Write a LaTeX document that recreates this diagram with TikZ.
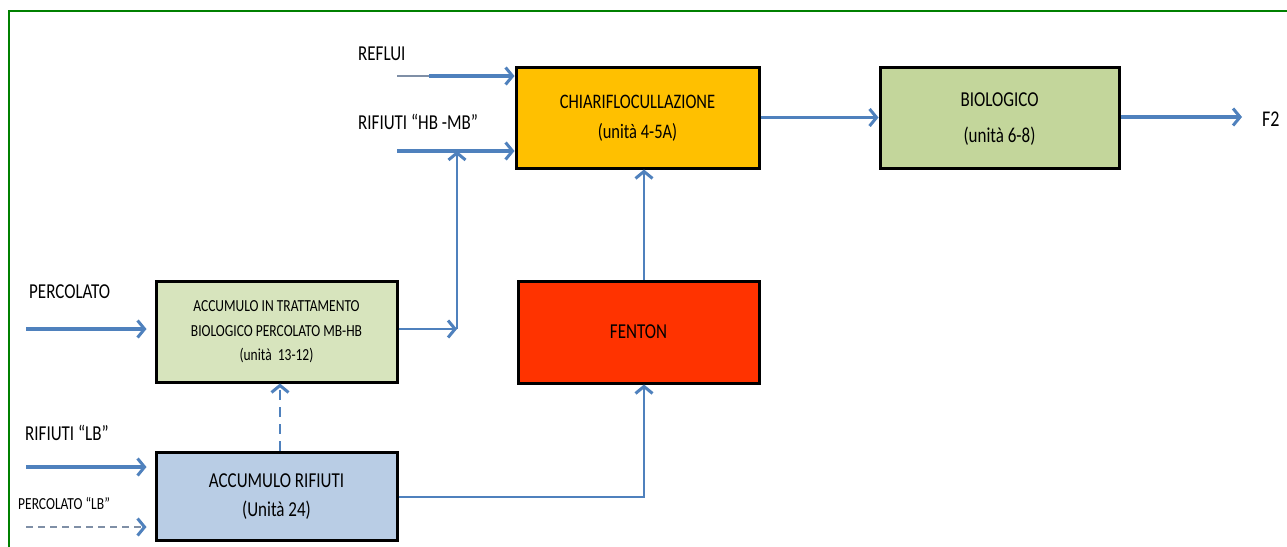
\documentclass[tikz,border=0pt]{standalone}
\usepackage{fontspec}
\setmainfont{Carlito}
\usepackage{graphicx}
\usetikzlibrary{arrows.meta,calc}
\definecolor{arrblue}{HTML}{4F81BD}
\definecolor{thingray}{HTML}{7F8FA6}
\definecolor{frameg}{HTML}{008000}
\definecolor{orangebox}{HTML}{FFC000}
\definecolor{biobox}{HTML}{C3D69B}
\definecolor{accinbox}{HTML}{D7E4BD}
\definecolor{accrbox}{HTML}{B9CDE5}
\definecolor{fentonbox}{HTML}{FF3300}
\newcommand\vs[1]{\scalebox{1}[1.25]{#1}}
\begin{document}
\begin{tikzpicture}[x=1pt,y=-1pt,
  box/.style={draw=black, line width=3pt, inner sep=0pt, align=center},
  lbl/.style={inner sep=0pt, anchor=west, font=\fontsize{17}{20}\selectfont},
  tipb/.style={-{Straight Barb[length=7pt,width=17pt,line width=3pt,color=arrblue]}},
  arr/.style={draw=arrblue, line width=3.5pt, tipb},
  arrthin/.style={draw=arrblue, line width=2.4pt, tipb},
  arrdash/.style={draw=arrblue, line width=2.8pt, dash pattern=on 10pt off 7pt, tipb},
  thindash/.style={draw=thingray, line width=1.3pt, dash pattern=on 7pt off 5pt, tipb}]
\useasboundingbox (0,0) rectangle (1287,546);
\fill[white] (0,0) rectangle (1287,546);
\draw[frameg, line width=2.5pt] (9,560) -- (9,11) -- (1300,11);

% boxes
\node[box, fill=orangebox, minimum width=243pt, minimum height=101pt] (chiari) at (637.5,117.5)
  {\vs{\fontsize{16.5}{24}\selectfont\begin{tabular}{@{}c@{}}CHIARIFLOCULLAZIONE\\(unità 4-5A)\end{tabular}}};
\node[box, fill=biobox, minimum width=239pt, minimum height=101pt] (bio) at (999.5,117.5)
  {\raisebox{5pt}{\vs{\fontsize{17}{29}\selectfont\begin{tabular}{@{}c@{}}BIOLOGICO\\(unità 6-8)\end{tabular}}}};
\node[box, fill=fentonbox, minimum width=241pt, minimum height=102pt] (fenton) at (638.5,332)
  {\raisebox{-3pt}{\vs{\fontsize{17}{20}\selectfont FENTON}}};
\node[box, fill=accinbox, minimum width=241pt, minimum height=101pt] (accin) at (276.5,331.5)
  {\raisebox{3pt}{\vs{\fontsize{13.5}{19.6}\selectfont\begin{tabular}{@{}c@{}}ACCUMULO IN TRATTAMENTO\\BIOLOGICO PERCOLATO MB-HB\\(unità\ \ 13-12)\end{tabular}}}};
\node[box, fill=accrbox, minimum width=241pt, minimum height=88pt] (accr) at (276.5,496)
  {\raisebox{2pt}{\vs{\fontsize{17}{23.2}\selectfont\begin{tabular}{@{}c@{}}ACCUMULO RIFIUTI\\(Unità 24)\end{tabular}}}};

% labels
\node[lbl] (lreflui) at (358,54) {\vs{REFLUI}};
\node[lbl] (lhb) at (358,122) {\vs{RIFIUTI “HB -MB”}};
\node[lbl] (lperc) at (29,292) {\vs{PERCOLATO}};
\node[lbl] (llb) at (25,433) {\vs{RIFIUTI “LB”}};
\node[lbl, font=\fontsize{13.5}{16}\selectfont] (lplb) at (18,503) {\vs{PERCOLATO “LB”}};
\node[lbl, font=\fontsize{18}{20}\selectfont] (lf2) at (1262,119) {\vs{F2}};

% coordinates
\coordinate (rf0) at (397,76);
\coordinate (rf1) at (429,76);
\coordinate (hb0) at (397,151);
\coordinate (jn) at (457,151);
\coordinate (jb) at (457,329);
\coordinate (fx) at (644,0);
\coordinate (ar) at (644,497);
\coordinate (dx) at (280,0);
\coordinate (pin) at (26,329);
\coordinate (lbin) at (26,467);
\coordinate (plb) at (26,527);
\coordinate (f2) at (1242,117);

% connectors
\draw[draw=thingray, line width=1.5pt] (rf0) -- (rf1);
\draw[arr] (rf1) -- (rf1 -| chiari.west);
\draw[arr] (hb0) -- (hb0 -| chiari.west);
\draw[arrthin] (accin.east |- jb) -- (jb);
\draw[arrthin] (jb) -- (jn);
\draw[arrthin] (fenton.north -| fx) -- (chiari.south -| fx);
\draw[arrthin] (accr.east |- ar) -- (ar) -- (fenton.south -| ar);
\draw[arrdash] (accr.north -| dx) -- (accin.south -| dx);
\draw[arr, shorten >=8pt] (pin) -- (pin -| accin.west);
\draw[arr, shorten >=8pt] (lbin) -- (lbin -| accr.west);
\draw[thindash, shorten >=8pt] (plb) -- (plb -| accr.west);
\draw[arr] (chiari.east) -- (bio.west);
\draw[arr] (bio.east |- f2) -- (f2);
\end{tikzpicture}
\end{document}
